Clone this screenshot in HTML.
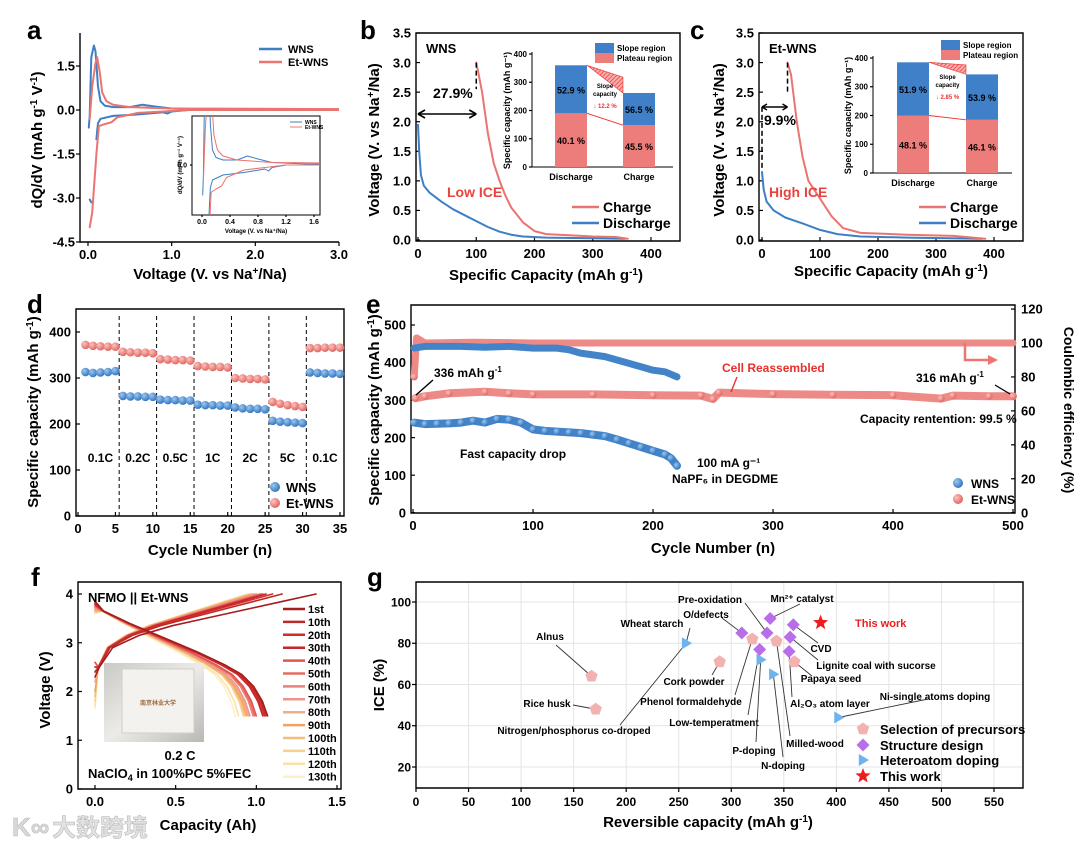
<!DOCTYPE html>
<html><head><meta charset="utf-8">
<style>
html,body{margin:0;padding:0;background:#fff;}
svg{display:block;font-family:"Liberation Sans","Noto Sans CJK SC",sans-serif;}
text{font-weight:bold;}
.nar{font-family:"Liberation Sans Narrow","Liberation Sans",sans-serif;}
</style></head>
<body>
<svg id="fig" width="1080" height="848" viewBox="0 0 1080 848" xmlns="http://www.w3.org/2000/svg">
<defs>
<radialGradient id="gBlue" cx="35%" cy="35%" r="70%"><stop offset="0" stop-color="#9cc6f0"/><stop offset="1" stop-color="#2f73bd"/></radialGradient>
<radialGradient id="gRed" cx="35%" cy="35%" r="70%"><stop offset="0" stop-color="#fbc4c0"/><stop offset="1" stop-color="#e0615c"/></radialGradient>
<pattern id="hatch" width="3" height="3" patternUnits="userSpaceOnUse" patternTransform="rotate(45)"><rect width="3" height="3" fill="#f6b0ad"/><line x1="0" y1="0" x2="0" y2="3" stroke="#e33" stroke-width="1.4"/></pattern>
<clipPath id="clipA"><rect x="80" y="33" width="259" height="209"/></clipPath>
<clipPath id="clipAi"><rect x="192" y="116" width="128" height="99"/></clipPath>
<linearGradient id="photo" x1="0" y1="0" x2="1" y2="1"><stop offset="0" stop-color="#c9c9c6"/><stop offset="0.5" stop-color="#ecebe7"/><stop offset="1" stop-color="#b9b8b4"/></linearGradient>
</defs>

<text x="27" y="39" font-size="26">a</text>
<text x="360" y="39" font-size="26">b</text>
<text x="690" y="39" font-size="26">c</text>
<text x="27" y="313" font-size="26">d</text>
<text x="366" y="313" font-size="26">e</text>
<text x="31" y="586" font-size="26">f</text>
<text x="367" y="586" font-size="26">g</text>

<text transform="translate(42,140) rotate(-90)" font-size="15" text-anchor="middle">dQ/dV (mAh g<tspan dy="-5" font-size="10">-1</tspan><tspan dy="5"> V</tspan><tspan dy="-5" font-size="10">-1</tspan><tspan dy="5">)</tspan></text>
<text x="210" y="279" font-size="15" text-anchor="middle">Voltage (V. vs Na<tspan dy="-5" font-size="10">+</tspan><tspan dy="5">/Na)</tspan></text>
<text transform="translate(379,140) rotate(-90)" font-size="15" text-anchor="middle">Voltage (V. vs Na<tspan dy="-5" font-size="10">+</tspan><tspan dy="5">/Na)</tspan></text>
<text x="546" y="280" font-size="15" text-anchor="middle">Specific Capacity (mAh g<tspan dy="-5" font-size="10">-1</tspan><tspan dy="5">)</tspan></text>
<text transform="translate(724,140) rotate(-90)" font-size="15" text-anchor="middle">Voltage (V. vs Na<tspan dy="-5" font-size="10">+</tspan><tspan dy="5">/Na)</tspan></text>
<text x="891" y="276" font-size="15" text-anchor="middle">Specific Capacity (mAh g<tspan dy="-5" font-size="10">-1</tspan><tspan dy="5">)</tspan></text>
<text transform="translate(38,412) rotate(-90)" font-size="15" text-anchor="middle">Specific capacity (mAh g<tspan dy="-5" font-size="10">-1</tspan><tspan dy="5">)</tspan></text>
<text x="210" y="555" font-size="15" text-anchor="middle">Cycle Number (n)</text>
<text transform="translate(379,410) rotate(-90)" font-size="15" text-anchor="middle">Specific capacity (mAh g<tspan dy="-5" font-size="10">-1</tspan><tspan dy="5">)</tspan></text>
<text transform="translate(1064,410) rotate(90)" font-size="14" text-anchor="middle">Coulombic efficiency (%)</text>
<text x="713" y="553" font-size="15" text-anchor="middle">Cycle Number (n)</text>
<text transform="translate(50,690) rotate(-90)" font-size="15" text-anchor="middle">Voltage (V)</text>
<text x="208" y="830" font-size="15" text-anchor="middle">Capacity (Ah)</text>
<text transform="translate(384,685) rotate(-90)" font-size="15" text-anchor="middle">ICE (%)</text>
<text x="708" y="827" font-size="15" text-anchor="middle">Reversible capacity (mAh g<tspan dy="-5" font-size="10">-1</tspan><tspan dy="5">)</tspan></text>

<text x="12" y="836" font-size="26" fill="#d8d8d8" stroke="#bbb" stroke-width="0.6" font-weight="normal">K∞</text>
<text x="52" y="836" font-size="24" fill="#e2e2e2" stroke="#bbb" stroke-width="0.6" font-weight="normal">大数跨境</text>

<g id="layer"></g>
</svg>

<script>
const aWnsChgV=[0.01,0.02,0.04,0.07,0.09,0.12,0.15,0.2,0.3,0.5,0.65,0.8,1.0,1.5,3.0];
const aWnsChgD=[-0.6,-0.2,1.8,2.2,2.0,0.8,0.3,0.15,0.1,0.1,0.18,0.12,0.05,0.02,0.02];
const aWnsDisV=[3.0,1.2,1.0,0.95,0.9,0.6,0.3,0.15,0.12,0.11,0.1];
const aWnsDisD=[0,0,-0.05,-0.12,-0.08,-0.15,-0.2,-0.3,-0.45,-0.7,-1.0];
const aWnsTailV=[0.02,0.04];
const aWnsTailD=[-3.05,-3.15];
const aEtChgV=[0.02,0.05,0.09,0.11,0.14,0.17,0.22,0.3,0.5,1.0,3.0];
const aEtChgD=[-0.3,0.8,1.6,1.8,1.3,0.6,0.3,0.18,0.1,0.05,0.03];
const aEtDisV=[3.0,1.2,0.9,0.6,0.35,0.28,0.2,0.13,0.1,0.05,0.02];
const aEtDisD=[0,0,-0.05,-0.1,-0.25,-0.42,-0.48,-0.55,-1.5,-3.5,-4.0];
const aYTicks=[1.5,0,-1.5,-3.0,-4.5];
const aYLabels=['1.5','0.0','-1.5','-3.0','-4.5'];
const aXTicks=[0,1,2,3];
const aXLabels=['0.0','1.0','2.0','3.0'];
const aInXTicks=[0,0.4,0.8,1.2,1.6];
const aInXLabels=['0.0','0.4','0.8','1.2','1.6'];
const bDisQ=[0,2,5,10,20,40,60,80,100,120,140,160,180,220,300,355];
const bDisV=[1.95,1.5,1.1,0.92,0.8,0.65,0.52,0.42,0.32,0.22,0.14,0.09,0.06,0.04,0.03,0.02];
const bChgQ=[100,110,120,130,140,150,160,180,200,220,260,300,340,360];
const bChgV=[3.0,2.5,1.8,1.3,1.0,0.75,0.55,0.3,0.15,0.1,0.08,0.06,0.05,0.02];
const bInsetCats=['Discharge','Charge'];
const bPlateau=[190,148];
const bSlope=[170,114];
const bPlateauPct=['40.1 %','45.5 %'];
const bSlopePct=['52.9 %','56.5 %'];
const cDisQ=[0,3,8,20,40,70,100,130,170,250,380];
const cDisV=[1.15,0.85,0.65,0.5,0.38,0.28,0.17,0.1,0.06,0.04,0.02];
const cChgQ=[44,50,60,70,80,100,120,140,170,250,330,385];
const cChgV=[3.0,2.8,2.0,1.4,1.0,0.7,0.4,0.2,0.12,0.09,0.07,0.02];
const cInsetCats=['Discharge','Charge'];
const cPlateau=[200,185];
const cSlope=[185,158];
const cPlateauPct=['48.1 %','46.1 %'];
const cSlopePct=['51.9 %','53.9 %'];
const bcYTicks=[0,0.5,1,1.5,2,2.5,3,3.5];
const bcYLabels=['0.0','0.5','1.0','1.5','2.0','2.5','3.0','3.5'];
const bcXTicks=[0,100,200,300,400];
const bcXLabels=['0','100','200','300','400'];
const dCycles=[1,2,3,4,5,6,7,8,9,10,11,12,13,14,15,16,17,18,19,20,21,22,23,24,25,26,27,28,29,30,31,32,33,34,35];
const dWns=[313,311,312,313,315,261,260,260,259,259,253,252,252,251,251,242,241,241,240,240,236,234,233,233,232,207,205,204,203,202,312,311,310,310,309];
const dEt=[372,370,369,368,368,357,356,355,355,354,341,340,339,339,338,326,325,324,324,323,300,299,298,298,297,248,244,241,239,237,365,365,366,366,366];
const dRates=['0.1C','0.2C','0.5C','1C','2C','5C','0.1C'];
const dRateCenters=[3,8,13,18,23,28,33];
const dDividers=[5.5,10.5,15.5,20.5,25.5,30.5];
const eWnsCyc=[1,10,20,30,40,50,60,70,80,90,100,110,120,130,140,150,160,170,180,190,200,210,215,220];
const eWnsCap=[240,236,237,238,240,245,240,250,248,240,222,218,216,214,212,208,204,195,185,175,165,155,145,125];
const eWnsCeCyc=[1,10,20,40,60,80,100,120,130,140,150,160,170,180,190,200,210,220];
const eWnsCe=[97,98,98,98,97.5,98,97,97,96,94,93,92,90,88,86,84,83,80];
const eEtCyc=[2,10,30,60,80,100,150,200,240,250,255,300,350,400,440,450,480,500];
const eEtCap=[305,310,318,322,318,315,315,313,312,303,320,316,314,313,304,312,310,310];
const eEtCeCyc=[1,3,10,50,100,200,300,400,500];
const eEtCe=[80,103,100,100.5,100,100,100,100,100];
const fLabels=['1st','10th','20th','30th','40th','50th','60th','70th','80th','90th','100th','110th','120th','130th'];
const fChargeCap=[1.37,1.16,1.1,1.06,1.04,1.03,1.02,1.0,0.99,0.98,0.97,0.96,0.95,0.94];
const fDisCap=[1.07,1.06,1.05,1.04,1.0,0.99,0.98,0.96,0.95,0.94,0.93,0.92,0.89,0.87];
const fChargeStartV=[2.3,2.4,2.5,2.4,2.6,2.5,2.6,2.5,2.2,2.0,1.9,1.8,1.7,1.65];
const fColors=['#a51d1d','#bb2c28','#d52a2a','#c92428','#e0564f','#e66b64','#eb7f78','#ee958d','#f1ab8c','#f2a35c','#f5bd7a','#f8cf8e','#fbe1a8','#fdf0c8'];
const gPreX=[167,171,289,320,343,360];
const gPreY=[64,48,71,82,81,71];
const gStrX=[310,334,337,359,356,327,355];
const gStrY=[85,85,92,89,83,77,76];
const gHetX=[257,328,340,402];
const gHetY=[80,72,65,44];
const gWorkX=[385];
const gWorkY=[90];
const gXTicks=[0,50,100,150,200,250,300,350,400,450,500,550];
const gYTicks=[20,40,60,80,100];

const NS='http://www.w3.org/2000/svg';
const root=document.getElementById('layer');
function mk(p,tag,a,t){const e=document.createElementNS(NS,tag);for(const k in a)e.setAttribute(k,a[k]);if(t!==undefined)e.textContent=t;p.appendChild(e);return e;}
function L(d0,d1,r0,r1){return v=>r0+(v-d0)*(r1-r0)/(d1-d0);}
function grp(name){const g=mk(root,'g',{});


return g;}
function frame(g,l,t,r,b,full,w){
const e=mk(g,'path',{d:full?`M${l},${t}H${r}V${b}H${l}Z`:`M${l},${t}V${b}H${r}`,fill:'none',stroke:'#000','stroke-width':w||1.4});

}
function xt(g,sx,yb,vals,labs,fs,len,dy){vals.forEach((v,i)=>{const x=sx(v);
const t=mk(g,'line',{x1:x,x2:x,y1:yb,y2:yb+len,stroke:'#000','stroke-width':1.2});


if(labs){const s=mk(g,'text',{x:x,y:yb+(dy||17),'font-size':fs,'text-anchor':'middle'},labs[i]);

}});}
function yt(g,sy,xa,vals,labs,fs,len,right){vals.forEach((v,i)=>{const y=sy(v);
const t=mk(g,'line',{x1:xa,x2:xa+(right?len:-len),y1:y,y2:y,stroke:'#000','stroke-width':1.2});


if(labs){const s=mk(g,'text',{x:right?xa+6:xa-5,y:y+fs*0.36,'font-size':fs,'text-anchor':right?'start':'end'},labs[i]);

}});}
function poly(g,sx,sy,xs,ys,col,w,name,extra){const d=xs.map((x,i)=>(i?'L':'M')+sx(x).toFixed(1)+','+sy(ys[i]).toFixed(1)).join('');
const a={d:d,fill:'none',stroke:col,'stroke-width':w,'stroke-linejoin':'round','stroke-linecap':'round'};if(extra)for(const k in extra)a[k]=extra[k];
const e=mk(g,'path',a);


return e;}
function txt(g,x,y,s,fs,name,opt){const a={x:x,y:y,'font-size':fs};if(opt)for(const k in opt)a[k]=opt[k];const e=mk(g,'text',a,s);


return e;}
function addSpan(t,s,dy,fs){const sp=mk(t,'tspan',{dy:dy,'font-size':fs},s);return sp;}
function ln(g,x1,y1,x2,y2,col,w,name,dash){const a={x1:x1,y1:y1,x2:x2,y2:y2,stroke:col,'stroke-width':w};if(dash)a['stroke-dasharray']=dash;const e=mk(g,'line',a);


return e;}
const BLUE='#3d7fc6',RED='#ea7470';

(function(){
const g=grp('panel-a');
const sx=L(0,3,88,339), sy=L(0,1.5,110,66);
frame(g,80,33,339,242,false);
xt(g,sx,242,aXTicks,aXLabels,13,4);
yt(g,sy,80,aYTicks,aYLabels,13,4);
const c=mk(g,'g',{'clip-path':'url(#clipA)'});


poly(c,sx,sy,aWnsChgV,aWnsChgD,BLUE,2,'wns-charge-line');
poly(c,sx,sy,aWnsDisV,aWnsDisD,BLUE,2,'wns-discharge-line');
poly(c,sx,sy,aWnsTailV,aWnsTailD,BLUE,2,'wns-discharge-tail');
poly(c,sx,sy,aEtChgV,aEtChgD,RED,2,'etwns-charge-line');
poly(c,sx,sy,aEtDisV,aEtDisD,RED,2,'etwns-discharge-line');
ln(g,259,49,282,49,BLUE,2.5,'legend-wns-line');txt(g,288,53,'WNS',11,'legend-wns-label');
ln(g,259,62,282,62,RED,2.5,'legend-etwns-line');txt(g,288,66,'Et-WNS',11,'legend-etwns-label');
const bx=mk(g,'rect',{x:192,y:116,width:128,height:99,fill:'#fff',stroke:'#000','stroke-width':1});


const ix=L(0,1.6,202,314), iy=L(0,1,165,115);
xt(g,ix,215,aInXTicks,aInXLabels,7,2,9);
yt(g,iy,192,[0],['0.0'],7,2);
const ci=mk(g,'g',{'clip-path':'url(#clipAi)'});


poly(ci,ix,iy,aWnsChgV,aWnsChgD,BLUE,1,'inset-wns-charge');
poly(ci,ix,iy,aWnsDisV,aWnsDisD,BLUE,1,'inset-wns-discharge');
poly(ci,ix,iy,aEtChgV,aEtChgD,RED,1,'inset-etwns-charge');
poly(ci,ix,iy,aEtDisV,aEtDisD,RED,1,'inset-etwns-discharge');
ln(g,290,122,302,122,BLUE,1,'inset-legend-wns');txt(g,305,124,'WNS',5,'inset-legend-wns-label');
ln(g,290,127,302,127,RED,1,'inset-legend-etwns');txt(g,305,129,'Et-WNS',5,'inset-legend-etwns-label');
txt(g,0,0,'dQ/dV (mAh g⁻¹ V⁻¹)',6,'inset-y-title',{transform:'translate(182,165) rotate(-90)','text-anchor':'middle'});
txt(g,256,233,'Voltage (V. vs Na⁺/Na)',6,'inset-x-title',{'text-anchor':'middle'});
})();

function gcd(name,P){
const g=grp(name);
const sx=L(0,400,P.x0,P.x400), sy=L(0,3.5,240,33);
frame(g,P.l,33,P.r,241,true);
xt(g,sx,241,bcXTicks,bcXLabels,13,-4);
yt(g,sy,P.l,bcYTicks,bcYLabels,13,-4);
poly(g,sx,sy,P.disQ,P.disV,BLUE,2,'discharge-curve');
poly(g,sx,sy,P.chgQ,P.chgV,RED,2,'charge-curve');
txt(g,P.l+10,53,P.title,13,'sample-label');
P.extra(g,sx,sy);
txt(g,P.lowX,197,P.ice,14,'ice-label',{fill:'#e8433f','font-weight':'normal'});
ln(g,P.legX,207,P.legX+27,207,RED,2.5,'legend-charge-line');txt(g,P.legX+31,212,'Charge',14,'legend-charge-label',{'font-weight':'normal'});
ln(g,P.legX,223,P.legX+27,223,BLUE,2.5,'legend-discharge-line');txt(g,P.legX+31,228,'Discharge',14,'legend-discharge-label',{'font-weight':'normal'});
const I=P.ins; const iy=L(0,400,I.b,I.t);
frame(g,I.l,I.t-2,I.r,I.b,false,1);
yt(g,iy,I.l,[0,100,200,300,400],['0','100','200','300','400'],8,3);
const cx=[I.c0,I.c1], bw=I.bw;
cx.forEach((c,i)=>{
const rp=mk(g,'rect',{x:c-bw/2,y:iy(P.plat[i]),width:bw,height:iy(0)-iy(P.plat[i]),fill:'#ec7d7a'});


const rs=mk(g,'rect',{x:c-bw/2,y:iy(P.plat[i]+P.slope[i]),width:bw,height:iy(P.plat[i])-iy(P.plat[i]+P.slope[i]),fill:'#3f80c8'});


txt(g,c,(iy(P.plat[i])+iy(0))/2+4,P.platPct[i],9,'plateau-pct-label',{'text-anchor':'middle'});
txt(g,c,(iy(P.plat[i])+iy(P.plat[i]+P.slope[i]))/2+4,P.slopePct[i],9,'slope-pct-label',{'text-anchor':'middle'});
txt(g,c,I.b+13,P.cats[i],9,'category-label',{'text-anchor':'middle'});
});
const dR=cx[0]+bw/2, cL=cx[1]-bw/2;
const t0=P.plat[0]+P.slope[0], t1=P.plat[1]+P.slope[1];
const h=mk(g,'polygon',{points:`${dR},${iy(t0)} ${cL},${iy(P.hatchTop)} ${cL},${iy(t1)}`,fill:'url(#hatch)',stroke:'#e33','stroke-width':0.6});


ln(g,dR,iy(P.plat[0]),cL,iy(P.plat[1]),'#e33',1,'plateau-connector');
txt(g,(dR+cL)/2,I.sy,'Slope',6,'slope-capacity-label',{'text-anchor':'middle'});
txt(g,(dR+cL)/2,I.sy+8,'capacity',6,'slope-capacity-label-2',{'text-anchor':'middle'});
txt(g,(dR+cL)/2,I.sy+20,'↓ '+P.drop,6,'slope-drop-label',{'text-anchor':'middle',fill:'#e33'});
txt(g,0,0,'Specific capacity (mAh g⁻¹)',9,'inset-y-title',{transform:`translate(${I.l-22},${(I.t+I.b)/2}) rotate(-90)`,'text-anchor':'middle'});
const lb=mk(g,'rect',{x:I.lx,y:I.ly,width:19,height:10,fill:'#3f80c8'});


const lr=mk(g,'rect',{x:I.lx,y:I.ly+10,width:19,height:10,fill:'#ec7d7a'});


txt(g,I.lx+22,I.ly+8,'Slope region',8,'legend-slope-label',{'font-weight':'normal'});
txt(g,I.lx+22,I.ly+18,'Plateau region',8,'legend-plateau-label',{'font-weight':'normal'});
}
gcd('panel-b',{l:416,r:680,x0:418,x400:651,disQ:bDisQ,disV:bDisV,chgQ:bChgQ,chgV:bChgV,title:'WNS',ice:'Low ICE',lowX:447,legX:572,
cats:bInsetCats,plat:bPlateau,slope:bSlope,platPct:bPlateauPct,slopePct:bSlopePct,hatchTop:318,drop:'12.2 %',
ins:{l:532,r:673,t:54,b:167,c0:571,c1:639,bw:32,sy:88,lx:595,ly:43},
extra:(g,sx,sy)=>{ln(g,sx(100),sy(3.0),sx(100),sy(2.55),'#000',1.5,'ice-dashed-line','5,3');ln(g,sx(0),114,sx(100),114,'#000',1.6,'ice-arrow');
ln(g,sx(0),114,sx(0)+7,110,'#000',1.6,'arrow-head');ln(g,sx(0),114,sx(0)+7,118,'#000',1.6,'arrow-head');ln(g,sx(100),114,sx(100)-7,110,'#000',1.6,'arrow-head');ln(g,sx(100),114,sx(100)-7,118,'#000',1.6,'arrow-head');
txt(g,433,98,'27.9%',14,'ice-loss-label');}});
gcd('panel-c',{l:759,r:1023,x0:762,x400:994,disQ:cDisQ,disV:cDisV,chgQ:cChgQ,chgV:cChgV,title:'Et-WNS',ice:'High ICE',lowX:769,legX:919,
cats:cInsetCats,plat:cPlateau,slope:cSlope,platPct:cPlateauPct,slopePct:cSlopePct,hatchTop:376,drop:'2.85 %',
ins:{l:873,r:1012,t:58,b:173,c0:913,c1:982,bw:32,sy:79,lx:941,ly:40},
extra:(g,sx,sy)=>{ln(g,sx(44),sy(3.0),sx(44),sy(2.5),'#000',1.5,'ice-dashed-line','5,3');ln(g,sx(0),sy(2.25),sx(0),sy(1.2),'#000',1.5,'ice-dashed-line-2','5,3');
ln(g,sx(0),107,sx(44),107,'#000',1.6,'ice-arrow');ln(g,sx(0),107,sx(0)+5,104,'#000',1.4,'arrow-head');ln(g,sx(0),107,sx(0)+5,110,'#000',1.4,'arrow-head');ln(g,sx(44),107,sx(44)-5,104,'#000',1.4,'arrow-head');ln(g,sx(44),107,sx(44)-5,110,'#000',1.4,'arrow-head');
txt(g,764,125,'9.9%',14,'ice-loss-label');}});

(function(){
const g=grp('panel-d');
const sx=L(0,35,78,340), sy=L(0,400,516,332);
frame(g,76,309,344,516,true);
xt(g,sx,516,[0,5,10,15,20,25,30,35],['0','5','10','15','20','25','30','35'],13,-4);
yt(g,sy,76,[0,100,200,300,400],['0','100','200','300','400'],13,-4);
dDividers.forEach(v=>ln(g,sx(v),316,sx(v),516,'#000',1,'rate-divider','4,3'));
dRates.forEach((r,i)=>txt(g,sx(dRateCenters[i]),462,r,12,'rate-label',{'text-anchor':'middle','font-weight':'normal'}));
dCycles.forEach((c,i)=>{
const a=mk(g,'circle',{cx:sx(c),cy:sy(dWns[i]),r:4.3,fill:'url(#gBlue)'});


const b=mk(g,'circle',{cx:sx(c),cy:sy(dEt[i]),r:4.3,fill:'url(#gRed)'});

});
const l1=mk(g,'circle',{cx:275,cy:487,r:5,fill:'url(#gBlue)'});


const l2=mk(g,'circle',{cx:275,cy:503,r:5,fill:'url(#gRed)'});


txt(g,286,492,'WNS',13,'legend-wns-label',{'font-weight':'normal'});
txt(g,286,508,'Et-WNS',13,'legend-etwns-label',{'font-weight':'normal'});
})();

(function(){
const g=grp('panel-e');
const sx=L(0,500,413,1013), sy=L(0,500,512.7,325), sr=L(0,100,512.7,343);
frame(g,411,305,1015,513,true);
xt(g,sx,513,[0,100,200,300,400,500],['0','100','200','300','400','500'],13,-4);
yt(g,sy,411,[0,100,200,300,400,500],['0','100','200','300','400','500'],13,-4);
yt(g,sr,1015,[0,20,40,60,80,100,120],['0','20','40','60','80','100','120'],13,-4,true);
poly(g,sx,sr,eEtCeCyc,eEtCe,'#ee8a86',7,'etwns-ce-band');
poly(g,sx,sy,eEtCyc,eEtCap,'#ee8a86',8,'etwns-capacity-band');
poly(g,sx,sr,eWnsCeCyc,eWnsCe,'#4384c9',7,'wns-ce-band');
poly(g,sx,sy,eWnsCyc,eWnsCap,'#4384c9',8,'wns-capacity-band');
eWnsCyc.forEach((c,i)=>{const p=mk(g,'circle',{cx:sx(c),cy:sy(eWnsCap[i]),r:3.5,fill:'url(#gBlue)'});

});
eEtCyc.forEach((c,i)=>{const p=mk(g,'circle',{cx:sx(c),cy:sy(eEtCap[i]),r:3.5,fill:'url(#gRed)'});

});
const f=mk(g,'circle',{cx:sx(1),cy:sr(eEtCe[0]),r:3.5,fill:'url(#gRed)'});


const t1=txt(g,434,377,'336 mAh g',12,'first-capacity-label');
addSpan(t1,'-1',-5,8);
ln(g,433,380,416,395,'#000',1.4,'first-capacity-arrow');
txt(g,722,372,'Cell Reassembled',12,'cell-reassembled-label',{fill:'#e8302c'});
ln(g,737,377,731,392,'#e8302c',1.4,'reassembled-arrow');
const t2=txt(g,916,382,'316 mAh g',12,'final-capacity-label');
addSpan(t2,'-1',-5,8);
ln(g,995,385,1010,394,'#000',1.3,'final-capacity-arrow');
txt(g,860,423,'Capacity rentention: 99.5 %',12,'retention-label',{'font-weight':'normal',class:'nar'});
txt(g,460,458,'Fast capacity drop',12,'fast-drop-label',{'font-weight':'normal'});
txt(g,697,467,'100 mA g⁻¹',12,'current-label',{'font-weight':'normal'});
txt(g,672,483,'NaPF₆ in DEGDME',12,'electrolyte-label',{'font-weight':'normal'});
const ar=mk(g,'path',{d:'M965,343V360H990',fill:'none',stroke:'#ee7470','stroke-width':2.5});


const ah=mk(g,'polygon',{points:'998,360 988,355 988,365',fill:'#ee7470'});


const l1=mk(g,'circle',{cx:958,cy:483,r:5,fill:'url(#gBlue)'});


const l2=mk(g,'circle',{cx:958,cy:499,r:5,fill:'url(#gRed)'});


txt(g,971,488,'WNS',12,'legend-wns-label',{'font-weight':'normal'});
txt(g,971,504,'Et-WNS',12,'legend-etwns-label',{'font-weight':'normal'});
})();

(function(){
const g=grp('panel-f');
const sx=L(0,1.5,95,337), sy=L(0,4,789,594);
frame(g,78,582,341,789,true);
xt(g,sx,789,[0,0.5,1,1.5],['0.0','0.5','1.0','1.5'],13,-4);
yt(g,sy,78,[0,1,2,3,4],['0','1','2','3','4'],13,-4);
const chU=[0,0.02,0.08,0.2,0.35,0.5,0.7,0.85,1];
const chV=[0,2.5,2.9,3.15,3.35,3.5,3.7,3.85,4.0];
const dsU=[0,0.05,0.2,0.4,0.6,0.75,0.85,0.92,0.97,1];
const dsV=[3.85,3.65,3.4,3.1,2.8,2.55,2.35,2.1,1.8,1.5];
for(let i=fLabels.length-1;i>=0;i--){
const cv=chV.slice();cv[0]=fChargeStartV[i];
poly(g,sx,sy,chU.map(u=>u*fChargeCap[i]),cv,fColors[i],1.6,'charge-curve-'+fLabels[i]);
const dv=dsV.slice();dv[0]=3.85-i*0.02;
poly(g,sx,sy,dsU.map(u=>u*fDisCap[i]),dv,fColors[i],1.6,'discharge-curve-'+fLabels[i]);
}
fLabels.forEach((s,i)=>{const y=609+i*12.9;ln(g,283,y,305,y,fColors[i],2.5,'legend-line-'+s);txt(g,308,y+4,s,11,'legend-label-'+s);});
const ph=mk(g,'rect',{x:104,y:663,width:100,height:79,fill:'url(#photo)'});


const ph2=mk(g,'rect',{x:122,y:669,width:72,height:64,fill:'#f3f2ee',stroke:'#cfcfcb','stroke-width':1});


txt(g,140,705,'南京林业大学',6,'pouch-cell-logo-text',{fill:'#9a6a3a','font-weight':'normal'});
txt(g,88,602,'NFMO || Et-WNS',13,'cell-label');
txt(g,180,760,'0.2 C',13,'rate-label',{'text-anchor':'middle'});
const el=txt(g,88,778,'NaClO',13,'electrolyte-label');
addSpan(el,'4',3,9);
addSpan(el,' in 100%PC 5%FEC',-3,13);
})();

(function(){
const g=grp('panel-g');
const sx=L(0,550,416,994), sy=L(20,100,767,602);
gXTicks.forEach(v=>ln(g,sx(v),582,sx(v),788,'#e4e4e4',1,'x-grid-line'));
gYTicks.forEach(v=>ln(g,416,sy(v),1023,sy(v),'#e4e4e4',1,'y-grid-line'));
frame(g,416,582,1023,788,true);
xt(g,sx,788,gXTicks,gXTicks.map(String),12,4,18);
yt(g,sy,416,gYTicks,gYTicks.map(String),12,4);
const anns=[['Alnus',550,640,556,645,167,64],['Rice husk',547,707,573,705,171,48],['Nitrogen/phosphorus co-droped',574,734,620,725,257,80],
['Wheat starch',652,627,690,628,257,80],['Cork powder',694,685,712,675,289,71],['Phenol formaldehyde',691,705,735,695,320,82],
['Low-temperatment',714,726,748,715,327,77],['P-doping',754,754,756,742,328,72],['N-doping',783,769,783,757,340,65],
['Milled-wood',815,747,790,736,343,81],['Al₂O₃ atom layer',830,707,792,697,355,76],['Ni-single atoms doping',935,700,928,699,402,44],
['Pre-oxidation',710,603,745,603,334,85],['O/defects',706,618,722,618,310,85],['Mn²⁺ catalyst',802,602,800,604,337,92],
['CVD',821,652,818,643,359,89],['Lignite coal with sucorse',876,669,818,660,356,83],['Papaya seed',831,682,812,676,360,71]];
anns.forEach(a=>{txt(g,a[1],a[2],a[0],10,'annotation-'+a[0].toLowerCase().replace(/[^a-z0-9]+/g,'-'),{'text-anchor':'middle'});
ln(g,a[3],a[4],sx(a[5]),sy(a[6]),'#333',0.9,'annotation-leader');});
const pent=(x,y,r)=>{let p=[];for(let k=0;k<5;k++){const t=-Math.PI/2+k*2*Math.PI/5;p.push((x+r*Math.cos(t)).toFixed(1)+','+(y+r*Math.sin(t)).toFixed(1));}return p.join(' ');};
const dia=(x,y,r)=>`${x},${y-r} ${x+r},${y} ${x},${y+r} ${x-r},${y}`;
const tri=(x,y,r)=>`${x-r*0.7},${y-r} ${x+r},${y} ${x-r*0.7},${y+r}`;
const star=(x,y,r)=>{let p=[];for(let k=0;k<10;k++){const rr=k%2?r*0.42:r;const t=-Math.PI/2+k*Math.PI/5;p.push((x+rr*Math.cos(t)).toFixed(1)+','+(y+rr*Math.sin(t)).toFixed(1));}return p.join(' ');};
gPreX.forEach((v,i)=>{const p=mk(g,'polygon',{points:pent(sx(v),sy(gPreY[i]),6.5),fill:'#f2b3b0'});

});
gStrX.forEach((v,i)=>{const p=mk(g,'polygon',{points:dia(sx(v),sy(gStrY[i]),6.5),fill:'#b86ee8'});

});
gHetX.forEach((v,i)=>{const p=mk(g,'polygon',{points:tri(sx(v),sy(gHetY[i]),6),fill:'#6fb3ee'});

});
gWorkX.forEach((v,i)=>{const p=mk(g,'polygon',{points:star(sx(v),sy(gWorkY[i]),8),fill:'#ee1c1c'});

});
txt(g,855,627,'This work',11,'this-work-annotation',{fill:'#ee1c1c'});
const ly=[729,745,760,776];
const lp=mk(g,'polygon',{points:pent(863,ly[0],6.5),fill:'#f2b3b0'});


const ld=mk(g,'polygon',{points:dia(863,ly[1],6.5),fill:'#b86ee8'});


const lt=mk(g,'polygon',{points:tri(863,ly[2],6),fill:'#6fb3ee'});


const ls=mk(g,'polygon',{points:star(863,ly[3],8),fill:'#ee1c1c'});


['Selection of precursors','Structure design','Heteroatom doping','This work'].forEach((s,i)=>txt(g,880,ly[i]+5,s,13,'legend-label',{'font-weight':'normal'}));
})();
</script>
</body></html>
